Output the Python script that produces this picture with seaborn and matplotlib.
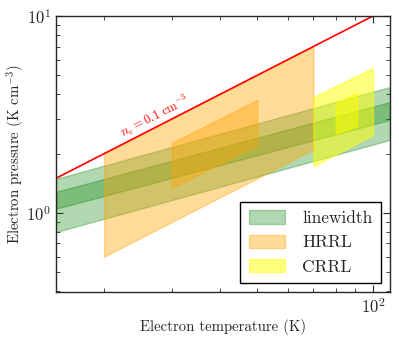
import matplotlib
matplotlib.use("Agg")
import matplotlib.pyplot as plt
import matplotlib.ticker as mticker
import seaborn as sns
import pandas as pd

# ---- data ----
lw_T = [15, 110.7]
lw1_low = [0.80, 2.35]
lw1_high = [1.28, 3.66]
lw2_low = [1.05, 2.97]
lw2_high = [1.49, 4.36]

hrrl_T = [20, 70]
hrrl_low = [0.60, 2.10]
hrrl_high = [2.00, 7.00]
hrrl2_T = [30, 50]
hrrl2_low = [1.34, 2.21]
hrrl2_high = [2.27, 3.75]

crrl_T = [70, 100]
crrl_low = [1.73, 2.49]
crrl_high = [3.88, 5.45]
crrl2_T = [80, 91]
crrl2_low = [2.52, 2.76]
crrl2_high = [3.62, 4.06]

ne_T = [15, 100]
ne_P = [1.5, 10.0]
ne_label = r"$n_e = 0.1\ \mathrm{cm}^{-3}$"

sns.set_style("ticks")
plt.rcParams["font.family"] = ["cmr10", "DejaVu Serif"]
plt.rcParams["mathtext.fontset"] = "cm"
plt.rcParams["axes.unicode_minus"] = False
plt.rcParams["axes.formatter.use_mathtext"] = True

fig = plt.figure(figsize=(3.99, 3.41), dpi=100)
ax = fig.add_axes([56/399, 1-292/341, (390-56)/399, (292-16)/341])

def band(T, lo, hi, color, alpha, label=None):
    ax.fill_between(T, lo, hi, facecolor=color, edgecolor=color, alpha=alpha,
                    linewidth=1.0, label=label)

band(lw_T, lw1_low, lw1_high, "green", 0.3, "linewidth")
band(lw_T, lw2_low, lw2_high, "green", 0.3)
band(hrrl_T, hrrl_low, hrrl_high, "orange", 0.4, "HRRL")
band(hrrl2_T, hrrl2_low, hrrl2_high, "orange", 0.4)
band(crrl_T, crrl_low, crrl_high, "yellow", 0.5, "CRRL")
band(crrl2_T, crrl2_low, crrl2_high, "yellow", 0.5)

df = pd.DataFrame({"T": ne_T, "P": ne_P})
sns.lineplot(data=df, x="T", y="P", ax=ax, color="red", linewidth=1.2)

ax.set_xscale("log")
ax.set_yscale("log")
ax.set_xlim(15, 110.7)
ax.set_ylim(0.397, 10)
ax.xaxis.set_minor_formatter(mticker.NullFormatter())
ax.yaxis.set_minor_formatter(mticker.NullFormatter())

ax.text(27.0, 3.1, ne_label, color="red", fontsize=9, rotation=27,
        ha="center", va="center", rotation_mode="anchor")

ax.set_xlabel("Electron temperature (K)", fontsize=10.7, labelpad=2)
ax.set_ylabel(r"Electron pressure (K cm$^{-3}$)", fontsize=10.7, labelpad=0)

ax.tick_params(which="both", direction="in", top=True, right=True, labelsize=12)
ax.tick_params(which="major", length=5, width=0.8)
ax.tick_params(which="minor", length=3, width=0.6)
for s in ax.spines.values():
    s.set_linewidth(1.0)

leg = ax.legend(loc="lower right", fontsize=12.5, frameon=True, fancybox=False,
                edgecolor="black", framealpha=1, borderaxespad=0.5,
                handlelength=2.1, handleheight=0.8, labelspacing=0.5,
                borderpad=0.5, handletextpad=1.0)
leg.get_frame().set_linewidth(1.0)

fig.savefig("out.png", dpi=100)
